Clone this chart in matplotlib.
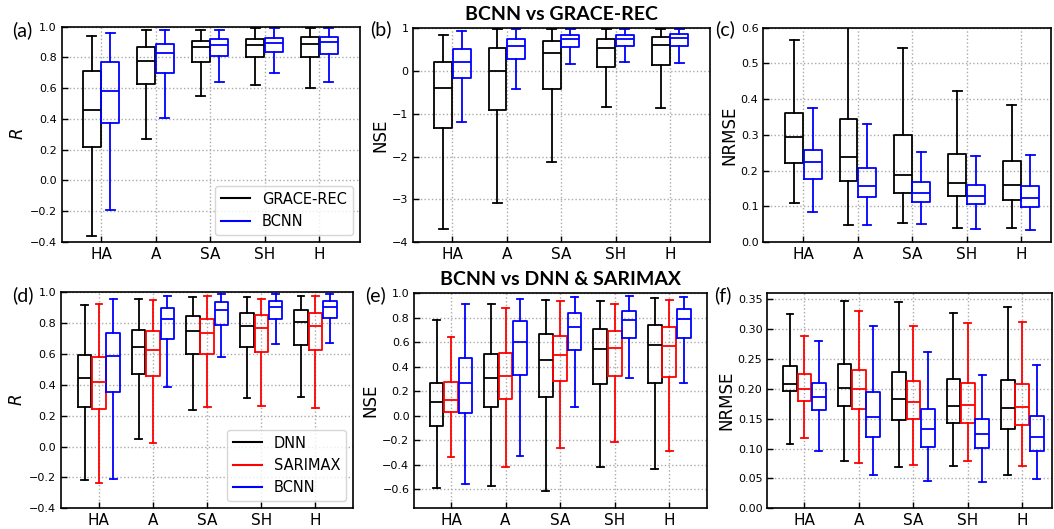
import matplotlib
matplotlib.use("Agg")
import matplotlib.pyplot as plt
from matplotlib.lines import Line2D

categories = ["HA", "A", "SA", "SH", "H"]

# box stats per category: [whislo, q1, median, q3, whishi]
r_grace = [[-0.36, 0.22, 0.46, 0.71, 0.94], [0.27, 0.63, 0.78, 0.87, 0.98],
           [0.55, 0.77, 0.87, 0.91, 0.98], [0.62, 0.80, 0.88, 0.92, 0.99],
           [0.60, 0.80, 0.89, 0.93, 0.99]]
r_bcnn1 = [[-0.195, 0.375, 0.58, 0.77, 0.96], [0.405, 0.70, 0.83, 0.89, 0.98],
           [0.643, 0.81, 0.88, 0.92, 0.98], [0.70, 0.836, 0.894, 0.924, 0.99],
           [0.643, 0.823, 0.90, 0.935, 0.99]]
nse_grace = [[-3.70, -1.34, -0.39, 0.22, 0.85], [-3.09, -0.92, 0.0, 0.53, 0.98],
             [-2.12, -0.43, 0.42, 0.70, 0.98], [-0.83, 0.10, 0.53, 0.76, 0.98],
             [-0.86, 0.13, 0.61, 0.80, 0.98]]
nse_bcnn1 = [[-1.19, -0.17, 0.20, 0.52, 0.93], [-0.42, 0.28, 0.595, 0.76, 0.98],
             [0.17, 0.57, 0.74, 0.836, 0.98], [0.21, 0.595, 0.75, 0.85, 0.98],
             [0.18, 0.595, 0.774, 0.875, 0.98]]
nrmse_grace = [[0.11, 0.222, 0.293, 0.36, 0.566], [0.048, 0.171, 0.239, 0.345, 0.62],
               [0.052, 0.137, 0.187, 0.299, 0.542], [0.039, 0.128, 0.165, 0.246, 0.424],
               [0.039, 0.118, 0.159, 0.226, 0.384]]
nrmse_bcnn1 = [[0.083, 0.177, 0.223, 0.257, 0.376], [0.048, 0.126, 0.158, 0.206, 0.33],
               [0.051, 0.111, 0.137, 0.167, 0.251], [0.035, 0.105, 0.13, 0.159, 0.241],
               [0.034, 0.099, 0.123, 0.156, 0.243]]

r_dnn = [[-0.218, 0.256, 0.444, 0.593, 0.92], [0.048, 0.47, 0.643, 0.758, 0.959],
         [0.234, 0.60, 0.749, 0.844, 0.97], [0.318, 0.647, 0.784, 0.866, 0.97],
         [0.323, 0.66, 0.81, 0.885, 0.978]]
r_sarimax = [[-0.236, 0.245, 0.416, 0.578, 0.924], [0.026, 0.459, 0.624, 0.747, 0.95],
             [0.258, 0.60, 0.734, 0.829, 0.974], [0.264, 0.615, 0.77, 0.855, 0.959],
             [0.253, 0.624, 0.784, 0.866, 0.974]]
r_bcnn2 = [[-0.212, 0.353, 0.589, 0.736, 0.955], [0.388, 0.695, 0.829, 0.898, 0.974],
           [0.578, 0.79, 0.888, 0.935, 0.987], [0.663, 0.829, 0.903, 0.942, 0.987],
           [0.669, 0.836, 0.905, 0.942, 0.987]]
nse_dnn = [[-0.592, -0.081, 0.11, 0.265, 0.782], [-0.576, 0.075, 0.311, 0.507, 0.913],
           [-0.614, 0.156, 0.458, 0.665, 0.945], [-0.418, 0.257, 0.548, 0.706, 0.937],
           [-0.431, 0.271, 0.578, 0.744, 0.964]]
nse_sarimax = [[-0.333, 0.031, 0.129, 0.276, 0.641], [-0.418, 0.14, 0.327, 0.512, 0.883],
               [-0.263, 0.284, 0.496, 0.649, 0.937], [-0.217, 0.328, 0.551, 0.695, 0.913],
               [-0.287, 0.32, 0.57, 0.728, 0.948]]
nse_bcnn2 = [[-0.56, 0.02, 0.27, 0.469, 0.913], [-0.325, 0.333, 0.603, 0.774, 0.951],
             [0.073, 0.535, 0.728, 0.84, 0.973], [0.309, 0.638, 0.785, 0.856, 0.978],
             [0.271, 0.636, 0.791, 0.87, 0.973]]
nrmse_dnn = [[0.107, 0.197, 0.208, 0.239, 0.325], [0.0785, 0.171, 0.202, 0.241, 0.347],
             [0.0685, 0.148, 0.183, 0.228, 0.346], [0.0707, 0.143, 0.1716, 0.217, 0.3275],
             [0.056, 0.133, 0.168, 0.2145, 0.337]]
nrmse_sarimax = [[0.118, 0.179, 0.2005, 0.225, 0.288], [0.076, 0.1665, 0.2005, 0.232, 0.33],
                 [0.073, 0.15, 0.178, 0.213, 0.305], [0.079, 0.142, 0.173, 0.209, 0.31],
                 [0.07, 0.139, 0.169, 0.208, 0.312]]
nrmse_bcnn2 = [[0.096, 0.164, 0.186, 0.21, 0.28], [0.0557, 0.12, 0.153, 0.195, 0.306],
               [0.0457, 0.103, 0.132, 0.1665, 0.262], [0.044, 0.101, 0.124, 0.15, 0.223],
               [0.0485, 0.096, 0.12, 0.154, 0.24]]

W, H = 1054, 529
plt.rcParams["font.family"] = "DejaVu Sans"
fig = plt.figure(figsize=(W / 100, H / 100), dpi=100)


def px_axes(l, t, r, b):
    return fig.add_axes([l / W, 1 - b / H, (r - l) / W, (b - t) / H])


def draw_boxes(ax, series, colors, offsets, width):
    for data, color, off in zip(series, colors, offsets):
        stats = [dict(whislo=s[0], q1=s[1], med=s[2], q3=s[3], whishi=s[4])
                 for s in data]
        pos = [i + 1 + off for i in range(len(categories))]
        lp = dict(color=color, linewidth=1.3)
        ax.bxp(stats, positions=pos, widths=width, showfliers=False,
               boxprops=lp, whiskerprops=lp, capprops=lp, medianprops=lp,
               manage_ticks=False)


def style(ax, xlim, ylim, yticks, fmt, ylabel, label, lab_xy):
    ax.set_xlim(*xlim)
    ax.set_ylim(*ylim)
    ax.set_xticks(range(1, len(categories) + 1))
    ax.set_xticklabels(categories, fontsize=11)
    ax.set_yticks(yticks)
    ax.set_yticklabels([fmt.format(v).replace("-", "\u2212") for v in yticks], fontsize=8)
    ax.tick_params(direction="in", length=4, width=1)
    ax.grid(True, linestyle=":", color="#aaaaaa", linewidth=1)
    ax.set_axisbelow(True)
    ax.set_ylabel(ylabel, fontsize=12, labelpad=2)
    for sp in ax.spines.values():
        sp.set_linewidth(1.2)
    fig.text(lab_xy[0] / W, 1 - lab_xy[1] / H, label, fontsize=14,
             family="Lato", ha="center", va="center")


two = ["black", "blue"]
three = ["black", "red", "blue"]
off2 = [-0.17, 0.17]
off3 = [-0.265, 0.0, 0.265]

ax_a = px_axes(61.7, 26.7, 360, 242)
draw_boxes(ax_a, [r_grace, r_bcnn1], two, off2, 0.33)
style(ax_a, (0.28, 5.745), (-0.4, 1.0), [-0.4, -0.2, 0.0, 0.2, 0.4, 0.6, 0.8, 1.0],
      "{:.1f}", "$R$", "(a)", (22, 30))
ax_a.legend([Line2D([], [], color="black"), Line2D([], [], color="blue")],
            ["GRACE-REC", "BCNN"], loc="lower right", fontsize=10.5)

ax_b = px_axes(413.3, 28.3, 710, 242)
draw_boxes(ax_b, [nse_grace, nse_bcnn1], two, off2, 0.33)
style(ax_b, (0.283, 5.735), (-4, 1), [-4, -3, -2, -1, 0, 1],
      "{:d}", "NSE", "(b)", (381, 29))
ax_b.set_title("BCNN vs GRACE-REC", fontsize=14, fontweight="bold",
               family="Lato", pad=6)

ax_c = px_axes(763.3, 27.7, 1051, 242)
draw_boxes(ax_c, [nrmse_grace, nrmse_bcnn1], two, off2, 0.33)
style(ax_c, (0.265, 5.55), (0, 0.6), [0.0, 0.1, 0.2, 0.3, 0.4, 0.5, 0.6],
      "{:.1f}", "NRMSE", "(c)", (725, 29))

ax_d = px_axes(61, 292.3, 353.3, 508.3)
draw_boxes(ax_d, [r_dnn, r_sarimax, r_bcnn2], three, off3, 0.25)
style(ax_d, (0.30, 5.70), (-0.4, 1.0), [-0.4, -0.2, 0.0, 0.2, 0.4, 0.6, 0.8, 1.0],
      "{:.1f}", "$R$", "(d)", (23, 295))
ax_d.legend([Line2D([], [], color=c) for c in three], ["DNN", "SARIMAX", "BCNN"],
            loc="lower right", fontsize=10.5)

ax_e = px_axes(414.3, 293.3, 706.7, 508.3)
draw_boxes(ax_e, [nse_dnn, nse_sarimax, nse_bcnn2], three, off3, 0.25)
style(ax_e, (0.328, 5.685), (-0.755, 1.0), [-0.6, -0.4, -0.2, 0.0, 0.2, 0.4, 0.6, 0.8, 1.0],
      "{:.1f}", "NSE", "(e)", (375, 295))
ax_e.set_title("BCNN vs DNN & SARIMAX", fontsize=14, fontweight="bold",
               family="Lato", pad=6)

ax_f = px_axes(767.3, 293.3, 1051.7, 508.3)
draw_boxes(ax_f, [nrmse_dnn, nrmse_sarimax, nrmse_bcnn2], three, off3, 0.25)
style(ax_f, (0.32, 5.54), (0, 0.36), [0.0, 0.05, 0.1, 0.15, 0.2, 0.25, 0.3, 0.35],
      "{:.2f}", "NRMSE", "(f)", (723, 295))

fig.savefig("out.png", dpi=100)
